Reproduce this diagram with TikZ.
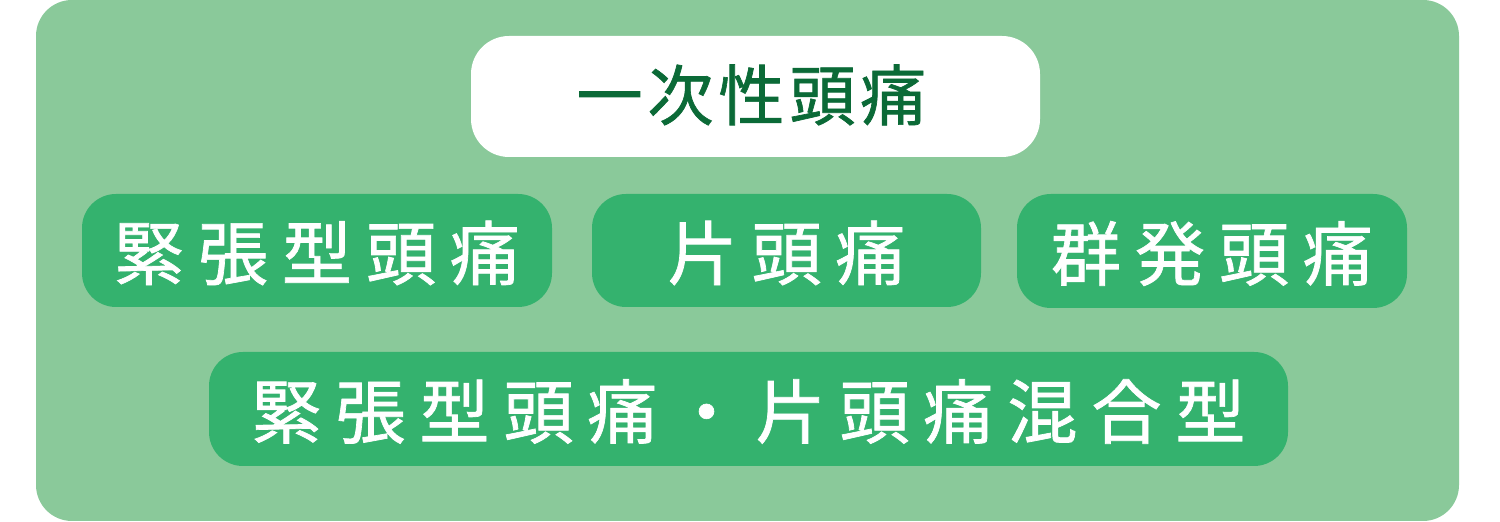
\documentclass[tikz,border=0pt]{standalone}
\usepackage{fontspec}
\newfontfamily\jpfont{Noto Sans CJK JP}[LetterSpace=20,FakeBold=1]
\newfontfamily\jptitlefont{Noto Sans CJK JP}[LetterSpace=7.5,FakeBold=1]
\definecolor{panelgreen}{HTML}{8AC99A}
\definecolor{boxgreen}{HTML}{34B26E}
\definecolor{titlegreen}{HTML}{0B6A37}
\tikzset{
  typebox/.style={shape=rectangle,fill=boxgreen,text=white,rounded corners=17pt,inner sep=0pt,
    text height=30pt,text depth=1pt,font=\jpfont\fontsize{35pt}{35pt}\selectfont},
}
\begin{document}
\begin{tikzpicture}[x=0.5pt,y=-0.5pt]
        \useasboundingbox (0,0) rectangle (1500,522);
        \node[shape=rectangle,fill=panelgreen,rounded corners=18pt,minimum width=711.5pt,minimum height=260.5pt] (panel) at (747.5,260.5) {};
        \node[shape=rectangle,fill=white,rounded corners=19pt,minimum width=284.5pt,minimum height=60.5pt,inner sep=0pt,
          text height=25pt,text depth=1.5pt,text=titlegreen,font=\jptitlefont\fontsize{33pt}{33pt}\selectfont] (primary) at (755.5,96.5) {一次性頭痛\kern4pt};
        \node[typebox,minimum width=235pt,minimum height=56.5pt] (tension) at (317,250.5) {緊張型頭痛};
        \node[typebox,minimum width=194.5pt,minimum height=56.5pt] (migraine) at (786.5,250.5) {片頭痛};
        \node[typebox,minimum width=195pt,minimum height=57pt] (cluster) at (1212,251) {群発頭痛};
        \node[typebox,minimum width=539.5pt,minimum height=57pt] (mixed) at (748.5,409) {緊張型頭痛・片頭痛混合型};
\end{tikzpicture}
\end{document}
